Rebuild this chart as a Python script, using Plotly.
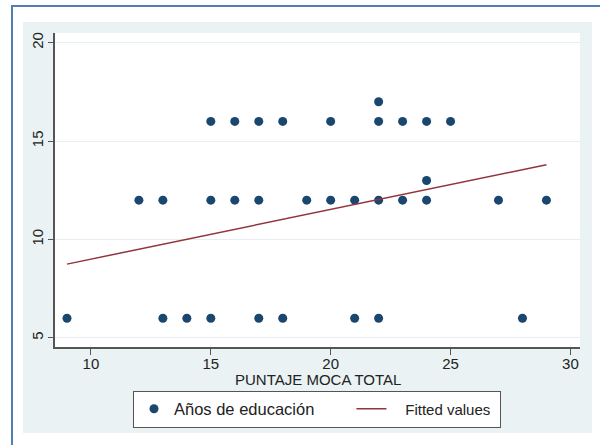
import plotly.graph_objects as go

# Data
x6 = [9, 13, 14, 15, 17, 18, 21, 22, 28]
x12 = [12, 13, 15, 16, 17, 19, 20, 21, 22, 23, 24, 27, 29]
x16 = [15, 16, 17, 18, 20, 22, 23, 24, 25]
x_other = [22, 24]
y_other = [17, 13]

moca = x6 + x12 + x16 + x_other
educ = [6] * len(x6) + [12] * len(x12) + [16] * len(x16) + y_other

fit_x = [9, 29]
fit_y = [8.75, 13.8]

x_ticks = [10, 15, 20, 25, 30]
y_ticks = [5, 10, 15, 20]

FONT = "Liberation Sans, Arial, sans-serif"
W, H = 600, 445
L, R, T, B = 55, 20, 33, 98
pw, ph = W - L - R, H - T - B


def px(X):
    return (X - L) / pw


def py(Y):
    return (H - B - Y) / ph


NB = "\u00a0"

fig = go.Figure()
fig.add_trace(go.Scatter(
    x=moca, y=educ, mode="markers",
    marker=dict(color="#1a476f", size=9),
    name="Años de educación" + NB * 7,
))
fig.add_trace(go.Scatter(
    x=fit_x, y=fit_y, mode="lines",
    line=dict(color="#90353b", width=1.5),
    name=NB * 3 + '<span style="font-size:15px">Fitted values</span>' + NB,
))

shapes = [
    # graph region background
    dict(type="rect", xref="paper", yref="paper", layer="below",
         x0=px(23), x1=px(592), y0=py(433), y1=py(22),
         fillcolor="#eaf2f3", line=dict(width=0)),
    # plot region background
    dict(type="rect", xref="paper", yref="paper", layer="below",
         x0=0, x1=1, y0=0, y1=1,
         fillcolor="#ffffff", line=dict(width=0)),
    # outer blue frame
    dict(type="rect", xref="paper", yref="paper", layer="below",
         x0=px(12), x1=px(620), y0=py(470), y1=py(6),
         fillcolor="rgba(0,0,0,0)", line=dict(color="#4f7fb5", width=2)),
]

fig.update_layout(
    width=W, height=H,
    margin=dict(l=L, r=R, t=T, b=B, autoexpand=False),
    paper_bgcolor="#ffffff",
    plot_bgcolor="rgba(0,0,0,0)",
    font=dict(family=FONT, color="#222222", size=15),
    shapes=shapes,
    showlegend=True,
    legend=dict(
        orientation="h", x=px(133), y=py(409), xanchor="left", yanchor="middle",
        bgcolor="#ffffff", bordercolor="#555555", borderwidth=1,
        font=dict(size=16.5, family=FONT, color="#222222"),
    ),
    annotations=[dict(
        text="PUNTAJE MOCA TOTAL", xref="paper", yref="paper",
        x=0.5, y=py(379), xanchor="center", yanchor="middle",
        showarrow=False, font=dict(size=15, family=FONT, color="#222222"),
    )],
    xaxis=dict(
        range=[8.5, 30.4], tickvals=x_ticks, ticks="outside", ticklen=6,
        tickcolor="#555555", showline=True, linecolor="#555555", linewidth=1.5,
        showgrid=False, zeroline=False, tickfont=dict(size=15), automargin=False,
        ticklabelstandoff=-4,
    ),
    yaxis=dict(
        range=[4.54, 20.49], tickvals=y_ticks, ticks="outside", ticklen=5,
        tickcolor="#555555", showline=True, linecolor="#555555", linewidth=1.5,
        showgrid=True, gridcolor="#e6eef0", gridwidth=1, zeroline=False,
        tickangle=-90, tickfont=dict(size=15), automargin=False,
        ticklabelstandoff=-1,
    ),
)

fig.write_html("out.html", config={"displayModeBar": False},
               post_script="document.body.style.margin='0';")
